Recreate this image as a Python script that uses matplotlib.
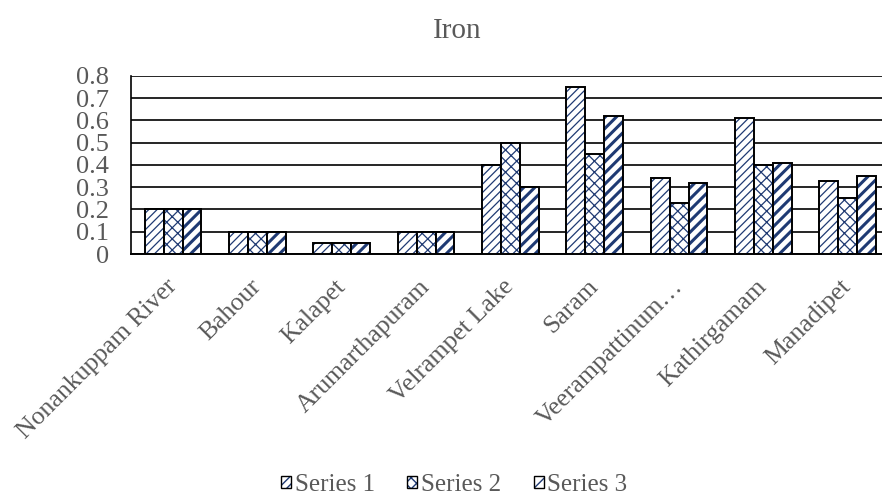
import numpy as np
import matplotlib
matplotlib.use("Agg")
import matplotlib.pyplot as plt
from matplotlib.colors import to_rgba
from matplotlib.patches import Patch

# Iron concentration by sampling site
SITES = [
    "Nonankuppam River",
    "Bahour",
    "Kalapet",
    "Arumarthapuram",
    "Velrampet Lake",
    "Saram",
    "Veerampattinum…",
    "Kathirgamam",
    "Manadipet",
]
SERIES_NAMES = ["Series 1", "Series 2", "Series 3"]
SERIES_1 = [0.20, 0.10, 0.05, 0.10, 0.40, 0.75, 0.34, 0.61, 0.33]
SERIES_2 = [0.20, 0.10, 0.05, 0.10, 0.50, 0.45, 0.23, 0.40, 0.25]
SERIES_3 = [0.20, 0.10, 0.05, 0.10, 0.30, 0.62, 0.32, 0.41, 0.35]
Y_TICKS = [0, 0.1, 0.2, 0.3, 0.4, 0.5, 0.6, 0.7, 0.8]

NAVY = "#1f3a73"
TEXT = "#595959"
HATCHES = ["////", "xxx", "///"]
HATCH_LW = [0.9, 0.9, 2.2]


def navy_hatch(patch, lw):
    # hatch lines in navy while the outline stays black
    patch._hatch_color = to_rgba(NAVY)
    if hasattr(patch, "set_hatch_linewidth"):
        patch.set_hatch_linewidth(lw)


plt.rcParams.update({
    "font.family": ["Liberation Serif", "DejaVu Serif"],
    "font.size": 18,
    "text.color": TEXT,
})

fig = plt.figure(figsize=(8.82, 5.01), dpi=100)
# plot area runs slightly past the right edge of the canvas
ax = fig.add_axes([0.1485, 0.493, 0.8605, 0.3555])

x = np.arange(len(SITES))
width = 0.224
for i, vals in enumerate([SERIES_1, SERIES_2, SERIES_3]):
    bars = ax.bar(x + (i - 1) * width, vals, width, color="white",
                  edgecolor="black", linewidth=1.4, hatch=HATCHES[i], zorder=3)
    for b in bars:
        navy_hatch(b, HATCH_LW[i])

ax.set_xlim(-0.5, len(SITES) - 0.5)
ax.set_ylim(0, 0.8)
ax.set_yticks(Y_TICKS)
ax.set_yticklabels([f"{t:g}" for t in Y_TICKS], color=TEXT, fontsize=19)
ax.yaxis.grid(True, color="black", linewidth=1.2, zorder=0)
ax.tick_params(axis="both", length=0)
ax.tick_params(axis="y", pad=16)
ax.set_xticks(x)
ax.set_xticklabels(SITES, rotation=45, ha="right", va="center",
                   rotation_mode="anchor", color=TEXT, fontsize=18.5)
ax.tick_params(axis="x", pad=21)
for side in ["top", "right"]:
    ax.spines[side].set_visible(False)
ax.spines["left"].set_color("black")
ax.spines["left"].set_linewidth(1.2)
ax.spines["bottom"].set_color("black")
ax.spines["bottom"].set_linewidth(1.4)

fig.text(0.518, 0.938, "Iron", ha="center", va="center", fontsize=21, color=TEXT)

handles = []
for i, name in enumerate(SERIES_NAMES):
    h = Patch(facecolor="white", edgecolor="black", hatch=HATCHES[i], linewidth=1.0, label=name)
    handles.append(h)
leg = fig.legend(handles=handles, loc="center", bbox_to_anchor=(0.515, 0.032), ncol=3,
                 frameon=False, fontsize=18, handlelength=0.4, handleheight=0.4,
                 handletextpad=0.15, columnspacing=1.3)
for h in leg.legend_handles:
    navy_hatch(h, 1.0)
for t in leg.get_texts():
    t.set_color(TEXT)

fig.savefig("out.png", dpi=100)
